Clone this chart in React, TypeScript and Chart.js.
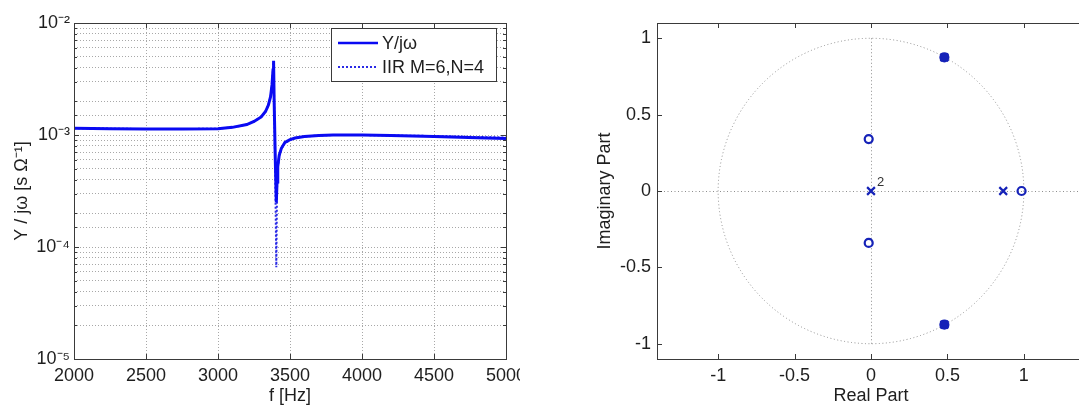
import React, { useEffect, useRef } from "react";
import { Chart, registerables } from "chart.js";

Chart.register(...registerables);

// ---------- Data: left chart (frequency response) ----------
const freqHz = [2000, 2250, 2500, 2750, 3000, 3100, 3200, 3250, 3300, 3330, 3350, 3365, 3375, 3382, 3386, 3390, 3398, 3405, 3410, 3415, 3425, 3440, 3465, 3500, 3535, 3600, 3700, 3800, 4000, 4200, 4500, 4800, 5000];
const admittanceY = [1.15e-3, 1.14e-3, 1.13e-3, 1.13e-3, 1.14e-3, 1.17e-3, 1.24e-3, 1.32e-3, 1.45e-3, 1.62e-3, 1.85e-3, 2.2e-3, 2.8e-3, 3.8e-3, 4.6e-3, 2.0e-3, 6.0e-4, 2.5e-4, 3.8e-4, 5.2e-4, 6.6e-4, 7.6e-4, 8.6e-4, 9.1e-4, 9.4e-4, 9.7e-4, 9.9e-4, 1.0e-3, 1.0e-3, 9.9e-4, 9.7e-4, 9.45e-4, 9.3e-4];
const iirFit = [1.15e-3, 1.14e-3, 1.13e-3, 1.13e-3, 1.14e-3, 1.17e-3, 1.24e-3, 1.32e-3, 1.45e-3, 1.62e-3, 1.85e-3, 2.2e-3, 2.8e-3, 3.8e-3, 4.5e-3, 2.0e-3, 4.0e-4, 6.6e-5, 3.4e-4, 5.0e-4, 6.5e-4, 7.5e-4, 8.5e-4, 9.0e-4, 9.4e-4, 9.7e-4, 9.9e-4, 1.0e-3, 1.0e-3, 9.9e-4, 9.8e-4, 9.6e-4, 9.5e-4];
const freqTicks = [2000, 2500, 3000, 3500, 4000, 4500, 5000];
const seriesNames = ["Y/jω", "IIR M=6,N=4"];

// ---------- Data: right chart (pole-zero plot) ----------
const zeroRe = [0.48, 0.48, -0.015, -0.015, 0.985];
const zeroIm = [0.875, -0.875, 0.34, -0.34, 0];
const zeroOverlapsPole = [true, true, false, false, false];
const poleRe = [0, 0.865, 0.48, 0.48];
const poleIm = [0, 0, 0.875, -0.875];
const poleMultiplicityLabel = "2";
const reTicks = [-1, -0.5, 0, 0.5, 1];
const imTicks = [-1, -0.5, 0, 0.5, 1];

const FONT = "'Liberation Sans', Arial, Helvetica, sans-serif";
const TEXT = "#1e1e1e";
const FRAME = "#3a3a3a";
const BLUE = "#0a0af2";
const MARK = "#1522b8";

Chart.defaults.font.family = FONT;
Chart.defaults.color = TEXT;

const sup: Record<string, string> = { "-": "⁻", "0": "⁰", "1": "¹", "2": "²", "3": "³", "4": "⁴", "5": "⁵", "6": "⁶", "7": "⁷", "8": "⁸", "9": "⁹" };
const pow10Label = (v: number) => {
  const e = Math.log10(v);
  if (Math.abs(e - Math.round(e)) > 1e-9) return "";
  return "10" + String(Math.round(e)).split("").map((c) => sup[c] || c).join("");
};

// frame + inward tick marks (MATLAB-like box)
const frameTicks = {
  id: "frameTicks",
  afterDatasetsDraw(chart: any) {
    const { ctx, chartArea: a, scales } = chart;
    const xs = scales.x, ys = scales.y;
    ctx.save();
    ctx.strokeStyle = FRAME;
    ctx.lineWidth = 1;
    ctx.setLineDash([]);
    ctx.beginPath();
    for (const t of xs.ticks) {
      const p = Math.round(xs.getPixelForValue(t.value)) + 0.5;
      ctx.moveTo(p, a.bottom); ctx.lineTo(p, a.bottom - 5);
      ctx.moveTo(p, a.top); ctx.lineTo(p, a.top + 5);
    }
    for (const t of ys.ticks) {
      const p = Math.round(ys.getPixelForValue(t.value)) + 0.5;
      const len = ys.type === "logarithmic" && !pow10Label(t.value) ? 3 : 5;
      ctx.moveTo(a.left, p); ctx.lineTo(a.left + len, p);
      ctx.moveTo(a.right, p); ctx.lineTo(a.right - len, p);
    }
    ctx.stroke();
    ctx.strokeRect(Math.round(a.left) + 0.5, Math.round(a.top) + 0.5, Math.round(a.right - a.left), Math.round(a.bottom - a.top));
    ctx.restore();
  },
};

// legend box inside the axes, top right
const legendBox = {
  id: "legendBox",
  afterDraw(chart: any) {
    const { ctx, chartArea: a } = chart;
    const w = 165, h = 53;
    const x0 = a.right - 10 - w, y0 = a.top + 5;
    ctx.save();
    ctx.fillStyle = "#fff";
    ctx.fillRect(x0, y0, w, h);
    ctx.strokeStyle = FRAME;
    ctx.lineWidth = 1;
    ctx.strokeRect(Math.round(x0) + 0.5, Math.round(y0) + 0.5, w, h);
    const rows = [y0 + 15, y0 + 39];
    chart.data.datasets.forEach((ds: any, i: number) => {
      ctx.beginPath();
      ctx.strokeStyle = ds.borderColor;
      ctx.lineWidth = Math.min(ds.borderWidth, 2.5);
      ctx.setLineDash(ds.borderDash || []);
      ctx.moveTo(x0 + 7, rows[i]);
      ctx.lineTo(x0 + 47, rows[i]);
      ctx.stroke();
      ctx.setLineDash([]);
      ctx.fillStyle = TEXT;
      ctx.font = `18px ${FONT}`;
      ctx.textBaseline = "middle";
      ctx.fillText(ds.label, x0 + 51, rows[i] + 1);
    });
    ctx.restore();
  },
};

// unit circle, axis lines and multiplicity label
const zplaneDecor = {
  id: "zplaneDecor",
  beforeDatasetsDraw(chart: any) {
    const { ctx, chartArea: a, scales } = chart;
    const xs = scales.x, ys = scales.y;
    const cx = xs.getPixelForValue(0), cy = ys.getPixelForValue(0);
    const rx = xs.getPixelForValue(1) - cx, ry = cy - ys.getPixelForValue(1);
    ctx.save();
    ctx.strokeStyle = "#8e8e8e";
    ctx.lineWidth = 1;
    ctx.setLineDash([1, 2.5]);
    ctx.beginPath();
    ctx.ellipse(cx, cy, rx, ry, 0, 0, Math.PI * 2);
    ctx.stroke();
    ctx.beginPath();
    ctx.moveTo(a.left, Math.round(cy) + 0.5);
    ctx.lineTo(a.right, Math.round(cy) + 0.5);
    ctx.moveTo(Math.round(cx) + 0.5, ys.getPixelForValue(1));
    ctx.lineTo(Math.round(cx) + 0.5, ys.getPixelForValue(-1));
    ctx.stroke();
    ctx.restore();
  },
  afterDatasetsDraw(chart: any) {
    const { ctx, scales } = chart;
    const px = scales.x.getPixelForValue(poleRe[0]), py = scales.y.getPixelForValue(poleIm[0]);
    ctx.save();
    ctx.fillStyle = "#333";
    ctx.font = `13px ${FONT}`;
    ctx.textBaseline = "middle";
    ctx.fillText(poleMultiplicityLabel, px + 6, py - 9);
    ctx.restore();
  },
};

const tickFont = { size: 18, family: FONT };
const titleFont = { size: 18, family: FONT };

function fitAxis(kind: "w" | "h", size: number) {
  return (s: any) => {
    if (kind === "w") s.width = size; else s.height = size;
    s.paddingLeft = 0; s.paddingRight = 0; s.paddingTop = 0; s.paddingBottom = 0;
  };
}

function ResponseChart() {
  const ref = useRef<HTMLCanvasElement>(null);
  useEffect(() => {
    const chart = new Chart(ref.current!, {
      type: "line",
      data: {
        datasets: [
          {
            label: seriesNames[0],
            data: freqHz.map((f, i) => ({ x: f, y: admittanceY[i] })),
            borderColor: BLUE, borderWidth: 3, pointRadius: 0, tension: 0,
          },
          {
            label: seriesNames[1],
            data: freqHz.map((f, i) => ({ x: f, y: iirFit[i] })),
            borderColor: "#2a2ae6", borderWidth: 2, borderDash: [2, 2], pointRadius: 0, tension: 0,
          },
        ],
      },
      options: {
        animation: false, responsive: false, maintainAspectRatio: false,
        layout: { padding: { left: 0, top: 23, right: 14, bottom: 0 } },
        plugins: { legend: { display: false }, tooltip: { enabled: false } },
        scales: {
          x: {
            type: "linear", min: 2000, max: 5000,
            afterBuildTicks: (s: any) => { s.ticks = freqTicks.map((v) => ({ value: v })); },
            afterFit: fitAxis("h", 48),
            grid: { color: "#a8a8a8", lineWidth: 1, drawTicks: false },
            border: { display: false, dash: [1, 2] },
            ticks: { font: tickFont, color: TEXT, padding: 6, maxRotation: 0, autoSkip: false, callback: (v: any) => String(v) },
            title: { display: true, text: "f [Hz]", font: titleFont, color: TEXT, padding: { top: 0, bottom: 0 } },
          },
          y: {
            type: "logarithmic", min: 1e-5, max: 1e-2,
            afterFit: fitAxis("w", 74),
            grid: { color: "#a8a8a8", lineWidth: 1, drawTicks: false },
            border: { display: false, dash: [1, 2] },
            ticks: { font: tickFont, color: TEXT, padding: 4, autoSkip: false, callback: (v: any) => pow10Label(Number(v)) },
            title: { display: true, text: "Y / jω [s Ω⁻¹]", font: titleFont, color: TEXT, padding: { top: 11, bottom: 0 } },
          },
        },
      },
      plugins: [frameTicks, legendBox],
    });
    return () => chart.destroy();
  }, []);
  return <canvas ref={ref} width={520} height={407} style={{ position: "absolute", left: 0, top: 0, width: 520, height: 407 }} />;
}

function PoleZeroChart() {
  const ref = useRef<HTMLCanvasElement>(null);
  useEffect(() => {
    const chart = new Chart(ref.current!, {
      type: "scatter",
      data: {
        datasets: [
          {
            label: "Zeros",
            data: zeroRe.map((r, i) => ({ x: r, y: zeroIm[i] })),
            pointStyle: "circle", pointRadius: 4, borderWidth: 2.2,
            borderColor: MARK,
            backgroundColor: zeroOverlapsPole.map((f) => (f ? MARK : "rgba(0,0,0,0)")),
          },
          {
            label: "Poles",
            data: poleRe.map((r, i) => ({ x: r, y: poleIm[i] })),
            pointStyle: "crossRot", pointRadius: 5.5, borderWidth: 2.2,
            borderColor: MARK, backgroundColor: MARK,
          },
        ],
      },
      options: {
        animation: false, responsive: false, maintainAspectRatio: false,
        layout: { padding: { left: 0, top: 23, right: 15, bottom: 0 } },
        plugins: { legend: { display: false }, tooltip: { enabled: false } },
        scales: {
          x: {
            type: "linear", min: -1.4, max: 1.4,
            afterBuildTicks: (s: any) => { s.ticks = reTicks.map((v) => ({ value: v })); },
            afterFit: fitAxis("h", 48),
            grid: { display: false, drawTicks: false },
            border: { display: false },
            ticks: { font: tickFont, color: TEXT, padding: 6, maxRotation: 0, autoSkip: false, callback: (v: any) => String(v) },
            title: { display: true, text: "Real Part", font: titleFont, color: TEXT, padding: { top: 0, bottom: 0 } },
          },
          y: {
            type: "linear", min: -1.1, max: 1.1,
            afterBuildTicks: (s: any) => { s.ticks = imTicks.map((v) => ({ value: v })); },
            afterFit: fitAxis("w", 117),
            grid: { display: false, drawTicks: false },
            border: { display: false },
            ticks: { font: tickFont, color: TEXT, padding: 6, autoSkip: false, callback: (v: any) => String(v) },
            title: { display: true, text: "Imaginary Part", font: titleFont, color: TEXT, padding: { top: 54, bottom: 0 } },
          },
        },
      },
      plugins: [zplaneDecor, frameTicks],
    });
    return () => chart.destroy();
  }, []);
  return <canvas ref={ref} width={560} height={407} style={{ position: "absolute", left: 540, top: 0, width: 560, height: 407 }} />;
}

export default function App() {
  return (
    <div style={{ position: "absolute", left: 0, top: 0, width: 1079, height: 407, overflow: "hidden", background: "#fff" }}>
      <ResponseChart />
      <PoleZeroChart />
    </div>
  );
}
